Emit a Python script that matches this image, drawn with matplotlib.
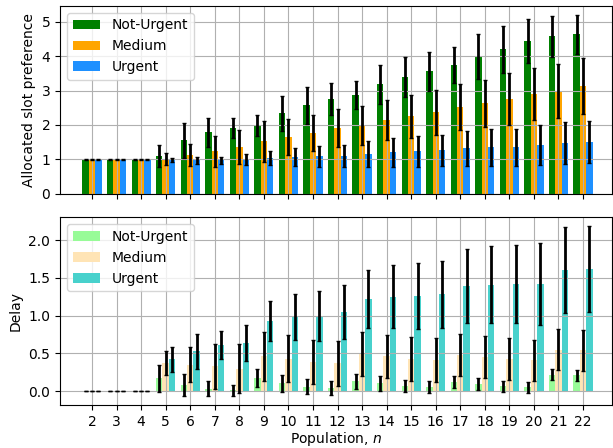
import numpy as np
import matplotlib
matplotlib.use("Agg")
import matplotlib.pyplot as plt

# population sizes
n = np.arange(2, 23)

# allocated slot preference (mean, std)
pref_not_urgent = [1.0, 1.0, 1.0, 1.10, 1.55, 1.79, 1.91, 1.98, 2.34, 2.57, 2.75,
                   2.86, 3.18, 3.39, 3.56, 3.74, 4.00, 4.20, 4.44, 4.58, 4.64]
pref_not_urgent_err = [0.01, 0.01, 0.01, 0.32, 0.51, 0.42, 0.28, 0.30, 0.51, 0.53, 0.47,
                       0.41, 0.57, 0.58, 0.57, 0.52, 0.65, 0.68, 0.64, 0.60, 0.57]
pref_medium = [1.0, 1.0, 1.0, 1.0, 1.12, 1.23, 1.35, 1.52, 1.64, 1.76, 1.90,
               1.98, 2.14, 2.25, 2.37, 2.51, 2.63, 2.75, 2.89, 2.99, 3.13]
pref_medium_err = [0.01, 0.01, 0.01, 0.17, 0.33, 0.45, 0.50, 0.60, 0.52, 0.52, 0.55,
                   0.56, 0.59, 0.63, 0.66, 0.67, 0.69, 0.75, 0.76, 0.78, 0.81]
pref_urgent = [1.0, 1.0, 1.0, 0.98, 0.97, 0.97, 0.99, 1.03, 1.06, 1.09, 1.09,
               1.15, 1.20, 1.23, 1.26, 1.32, 1.35, 1.35, 1.41, 1.47, 1.50]
pref_urgent_err = [0.01, 0.01, 0.01, 0.06, 0.10, 0.10, 0.15, 0.21, 0.27, 0.31, 0.32,
                   0.39, 0.43, 0.45, 0.46, 0.51, 0.54, 0.54, 0.59, 0.62, 0.62]

# delay (mean, std)
delay_not_urgent = [0.0, 0.0, 0.0, 0.17, 0.08, 0.035, 0.01, 0.17, 0.105, 0.06, 0.04,
                    0.13, 0.105, 0.065, 0.05, 0.12, 0.09, 0.065, 0.05, 0.22, 0.21]
delay_not_urgent_err = [0.0, 0.0, 0.0, 0.18, 0.15, 0.10, 0.07, 0.12, 0.11, 0.10, 0.09,
                        0.10, 0.10, 0.08, 0.08, 0.08, 0.08, 0.07, 0.07, 0.07, 0.07]
delay_medium = [0.0, 0.0, 0.0, 0.37, 0.35, 0.33, 0.30, 0.46, 0.43, 0.39, 0.37,
                0.49, 0.46, 0.43, 0.41, 0.48, 0.45, 0.43, 0.41, 0.55, 0.54]
delay_medium_err = [0.0, 0.0, 0.0, 0.16, 0.23, 0.30, 0.32, 0.32, 0.31, 0.29, 0.30,
                    0.29, 0.29, 0.29, 0.29, 0.28, 0.28, 0.28, 0.27, 0.27, 0.27]
delay_urgent = [0.0, 0.0, 0.0, 0.42, 0.53, 0.61, 0.64, 0.93, 0.98, 0.99, 1.05,
                1.22, 1.25, 1.26, 1.28, 1.39, 1.41, 1.42, 1.42, 1.61, 1.62]
delay_urgent_err = [0.0, 0.0, 0.0, 0.17, 0.23, 0.19, 0.24, 0.27, 0.30, 0.33, 0.36,
                    0.39, 0.42, 0.44, 0.45, 0.49, 0.51, 0.52, 0.54, 0.57, 0.57]

labels = ["Not-Urgent", "Medium", "Urgent"]
w = 0.26
err_kw = dict(ecolor="black", elinewidth=2, capsize=1.5, capthick=1)

fig, (ax1, ax2) = plt.subplots(2, 1, sharex=True, figsize=(6.13, 4.48), dpi=100)
fig.subplots_adjust(left=0.098, right=0.998, top=0.987, bottom=0.096, hspace=0.126)

# top: allocated slot preference
top_cols = ["green", "orange", "dodgerblue"]
top_vals = [(pref_not_urgent, pref_not_urgent_err),
            (pref_medium, pref_medium_err),
            (pref_urgent, pref_urgent_err)]
for i, (v, e) in enumerate(top_vals):
    ax1.bar(n + (i - 1) * w, v, w, yerr=e, color=top_cols[i], label=labels[i],
            error_kw=err_kw)
ax1.set_ylabel("Allocated slot preference")
ax1.grid(True)
ax1.legend(loc="upper left")

# bottom: delay
bot_cols = ["palegreen", "moccasin", "mediumturquoise"]
bot_vals = [(delay_not_urgent, delay_not_urgent_err),
            (delay_medium, delay_medium_err),
            (delay_urgent, delay_urgent_err)]
for i, (v, e) in enumerate(bot_vals):
    ax2.bar(n + (i - 1) * w, v, w, yerr=e, color=bot_cols[i], label=labels[i],
            error_kw=err_kw)
ax2.set_ylabel("Delay")
ax2.set_xlabel("Population, $n$", labelpad=1)
ax2.grid(True)
ax2.legend(loc="upper left")
ax2.set_xticks(n)
ax2.set_xlim(0.7, 23.17)

fig.savefig("out.png", dpi=100)
